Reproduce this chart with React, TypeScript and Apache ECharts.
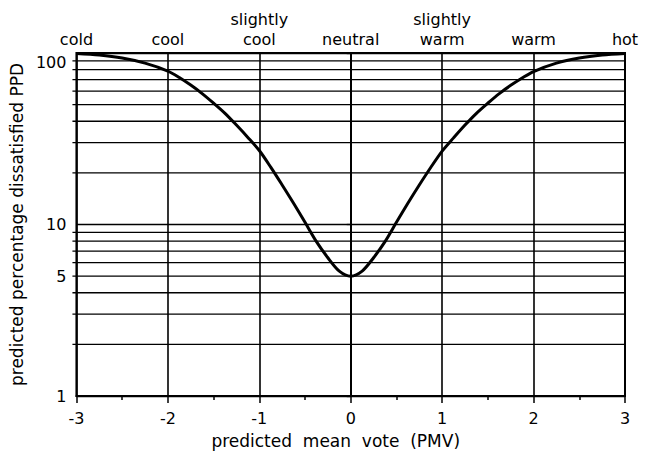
import React, { useEffect, useRef } from "react";
import * as echarts from "echarts";

const pmv = [-3, -2.75, -2.5, -2.25, -2, -1.875, -1.75, -1.625, -1.5, -1.375, -1.25, -1.125, -1, -0.875, -0.75, -0.625, -0.5, -0.375, -0.25, -0.125, 0, 0.125, 0.25, 0.375, 0.5, 0.625, 0.75, 0.875, 1, 1.125, 1.25, 1.375, 1.5, 1.625, 1.75, 1.875, 2, 2.25, 2.5, 2.75, 3];
const ppd = [99.3, 97.3, 93.5, 87.3, 78.5, 72, 65, 58, 51, 44.5, 38, 32.2, 27, 21.6, 17, 13.3, 10.3, 7.95, 6.4, 5.35, 5, 5.35, 6.4, 7.95, 10.3, 13.3, 17, 21.5, 26.8, 32, 38, 44.5, 51, 58, 64.8, 71.5, 78, 87.3, 93.5, 97.3, 99.3];
const sensationValues = [-3, -2, -1, 0, 1, 2, 3];
const sensationLabels = ["cold", "cool", "slightly\ncool", "neutral", "slightly\nwarm", "warm", "hot"];
const minorGrid = [2, 3, 4, 5, 6, 7, 8, 9, 20, 30, 40, 50, 60, 70, 80, 90];
const yLabels = [1, 10, 100];
const extraYLabel = 5;

const FONT = "DejaVu Sans";

export default function App() {
  const ref = useRef<HTMLDivElement>(null);
  useEffect(() => {
    if (!ref.current) return;
    const chart = echarts.init(ref.current, undefined, { renderer: "svg" });
    const data = pmv.map((x, i) => [x, ppd[i]]);
    chart.setOption({
      animation: false,
      backgroundColor: "#fff",
      textStyle: { fontFamily: FONT, color: "#000" },
      grid: { left: 74, right: 24, top: 53, bottom: 65, show: true, borderColor: "#000", borderWidth: 2, backgroundColor: "transparent" },
      xAxis: [
        {
          type: "value",
          min: -3,
          max: 3,
          interval: 1,
          position: "bottom",
          name: "predicted  mean  vote  (PMV)",
          nameLocation: "middle",
          nameGap: 36,
          nameTextStyle: { fontSize: 17, color: "#000", fontFamily: FONT, padding: [0, 30, 0, 0] },
          axisLine: { show: true, lineStyle: { color: "#000", width: 2 } },
          axisTick: { show: true, inside: false, length: 7, lineStyle: { color: "#000", width: 1.5 } },
          minorTick: { show: true, splitNumber: 2, length: 4, lineStyle: { color: "#000", width: 1.5 } },
          axisLabel: { show: true, margin: 14, fontSize: 16, color: "#000", fontFamily: FONT, showMinLabel: true, showMaxLabel: true },
          splitLine: { show: true, lineStyle: { color: "#000", width: 1.6 } },
        },
        {
          type: "value",
          min: -3,
          max: 3,
          interval: 1,
          position: "top",
          axisLine: { show: false },
          axisTick: { show: false },
          splitLine: { show: false },
          axisLabel: {
            show: true,
            margin: 4,
            fontSize: 16,
            lineHeight: 20,
            color: "#000",
            fontFamily: FONT,
            showMinLabel: true,
            showMaxLabel: true,
            formatter: (v: number) => {
              const idx = sensationValues.indexOf(Math.round(v));
              return idx >= 0 ? sensationLabels[idx] : "";
            },
          },
        },
      ],
      yAxis: {
        type: "log",
        logBase: 10,
        min: 1,
        max: 100,
        name: "predicted percentage dissatisfied PPD",
        nameLocation: "middle",
        nameGap: 50,
        nameTextStyle: { fontSize: 17, color: "#000", fontFamily: FONT },
        axisLine: { show: true, lineStyle: { color: "#000", width: 2 } },
        axisTick: { show: true, inside: false, length: 4, lineStyle: { color: "#000", width: 1.3 } },
        axisLabel: {
          show: true,
          margin: 10,
          fontSize: 16,
          color: "#000",
          fontFamily: FONT,
          formatter: (v: number) => {
            const r = Math.round(v);
            if (!yLabels.includes(r)) return "";
            return r === 100 ? "{top|100}" : String(r);
          },
          rich: { top: { fontSize: 16, color: "#000", fontFamily: FONT, padding: [18, 0, 0, 0] } },
        },
        splitLine: { show: true, lineStyle: { color: "#000", width: 1.3 } },
      },
      series: [
        {
          type: "line",
          xAxisIndex: 0,
          data,
          smooth: 0.3,
          symbol: "none",
          clip: false,
          lineStyle: { color: "#000", width: 3 },
          z: 5,
        },
      ],
    });

    const elements: any[] = [];
    minorGrid.forEach((v) => {
      const a = chart.convertToPixel({ xAxisIndex: 0, yAxisIndex: 0 }, [-3, v]) as number[];
      const b = chart.convertToPixel({ xAxisIndex: 0, yAxisIndex: 0 }, [3, v]) as number[];
      if (!a || !b) return;
      elements.push({
        type: "line",
        silent: true,
        z: 1,
        shape: { x1: a[0] - 4, y1: a[1], x2: b[0], y2: b[1] },
        style: { stroke: "#000", lineWidth: 1.3 },
      });
      if (v === extraYLabel) {
        elements.push({
          type: "text",
          silent: true,
          x: a[0] - 10,
          y: a[1],
          style: { text: String(v), fontSize: 16, fill: "#000", fontFamily: FONT, align: "right", verticalAlign: "middle" },
        });
      }
    });
    chart.setOption({ graphic: elements });
    return () => chart.dispose();
  }, []);
  return <div ref={ref} style={{ width: 649, height: 461, position: "absolute", left: 0, top: 0 }} />;
}
